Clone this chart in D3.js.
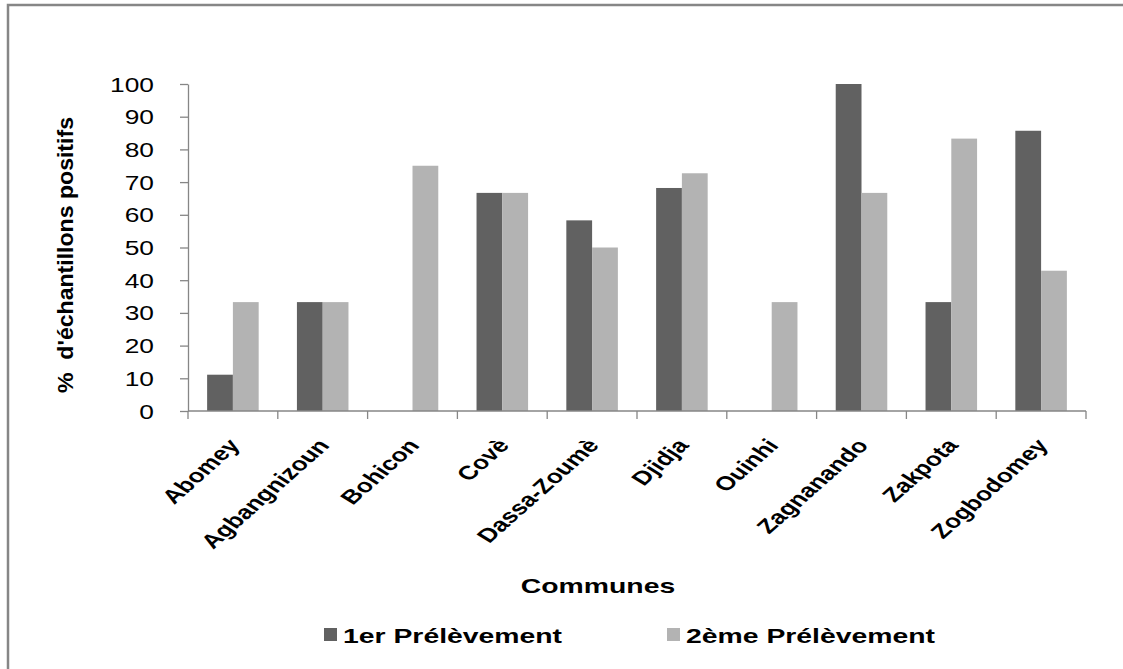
<!DOCTYPE html>
<html>
<head>
<meta charset="utf-8">
<script src="https://cdn.jsdelivr.net/npm/d3@7"></script>
<style>
  html, body { margin: 0; padding: 0; background: #fff; overflow: hidden; }
  svg { display: block; font-family: "Liberation Sans", Arial, sans-serif; }
</style>
</head>
<body>
<svg id="chart" width="1123" height="669"></svg>
<script>
const communes = ["Abomey", "Agbangnizoun", "Bohicon", "Covè", "Dassa-Zoumè", "Djidja", "Ouinhi", "Zagnanando", "Zakpota", "Zogbodomey"];
const prelevement1 = [11.1, 33.3, 0, 66.7, 58.3, 68.2, 0, 100, 33.3, 85.7];
const prelevement2 = [33.3, 33.3, 75, 66.7, 50, 72.7, 33.3, 66.7, 83.3, 42.9];
const seriesNames = ["1er Prélèvement", "2ème Prélèvement"];
const seriesColors = ["#616161", "#b3b3b3"];
const yTicks = [0, 10, 20, 30, 40, 50, 60, 70, 80, 90, 100];
const yTitle = "% \u00a0d'échantillons positifs";
const xTitle = "Communes";

const STRETCH = 1.35;
const axisColor = "#868686";
const svg = d3.select("#chart");

// frame
svg.append("rect").attr("x", 8).attr("y", 5).attr("width", 1300).attr("height", 900)
  .attr("fill", "none").attr("stroke", axisColor).attr("stroke-width", 2.5);

const pLeft = 188, pRight = 1086, pTop = 84, pBottom = 411;
const x0 = d3.scaleBand().domain(communes).range([pLeft, pRight]).padding(0);
const x1 = d3.scaleBand().domain(seriesNames)
  .range([x0.bandwidth() * 0.213, x0.bandwidth() * 0.787]).padding(0);
const y = d3.scaleLinear().domain([0, 100]).range([pBottom, pTop]);

const rows = communes.map((c, i) => ({ commune: c, values: [prelevement1[i], prelevement2[i]] }));

// bars
const g = svg.append("g");
rows.forEach(r => {
  r.values.forEach((v, k) => {
    if (v <= 0) return;
    g.append("rect")
      .attr("x", x0(r.commune) + x1(seriesNames[k]))
      .attr("y", y(v))
      .attr("width", x1.bandwidth())
      .attr("height", y(0) - y(v))
      .attr("fill", seriesColors[k]);
  });
});

function stretchText(sel, f) {
  sel.each(function () {
    const w = this.getComputedTextLength();
    this.setAttribute("textLength", w * f);
    this.setAttribute("lengthAdjust", "spacingAndGlyphs");
  });
}

// y axis
const yAxis = svg.append("g").attr("transform", `translate(${pLeft},0)`)
  .call(d3.axisLeft(y).tickValues(yTicks).tickSize(8).tickPadding(26).tickSizeOuter(0));
yAxis.select(".domain").attr("stroke", axisColor).attr("stroke-width", 1.3);
yAxis.selectAll(".tick line").attr("stroke", axisColor).attr("stroke-width", 1.3);
yAxis.selectAll(".tick text")
  .attr("fill", "#000").attr("font-size", 19.5)
  .attr("font-family", "Liberation Sans, Arial, sans-serif")
  .attr("dy", "0.36em");
stretchText(yAxis.selectAll(".tick text"), STRETCH);

// x axis: category boundaries ticks
const xb = svg.append("g");
xb.append("line").attr("x1", pLeft).attr("x2", pRight).attr("y1", pBottom).attr("y2", pBottom)
  .attr("stroke", axisColor).attr("stroke-width", 1.5);
const bounds = communes.map(c => x0(c)).concat([pRight]);
xb.selectAll("line.tk").data(bounds).enter().append("line").attr("class", "tk")
  .attr("x1", d => d).attr("x2", d => d).attr("y1", pBottom).attr("y2", pBottom + 8)
  .attr("stroke", axisColor).attr("stroke-width", 1.3);

// x labels
xb.selectAll("text.lab").data(communes).enter().append("text").attr("class", "lab")
  .attr("transform", d => `translate(${x0(d) + x0.bandwidth() / 2 + 8},446) scale(${STRETCH},1) rotate(-50)`)
  .attr("text-anchor", "end")
  .attr("font-size", 19.5).attr("font-weight", "bold").attr("fill", "#000")
  .text(d => d);

// y title
svg.append("text")
  .attr("transform", `translate(73,255) scale(${STRETCH},1) rotate(-90)`)
  .attr("text-anchor", "middle").attr("font-size", 16).attr("font-weight", "bold")
  .attr("textLength", 276).attr("lengthAdjust", "spacingAndGlyphs")
  .text(yTitle);

// x title
const xt = svg.append("text").attr("x", 598).attr("y", 593)
  .attr("text-anchor", "middle").attr("font-size", 21).attr("font-weight", "bold")
  .text(xTitle);
stretchText(xt, STRETCH);

// legend
const legX = [324, 667];
const leg = svg.append("g");
seriesNames.forEach((n, k) => {
  leg.append("rect").attr("x", legX[k]).attr("y", 628).attr("width", 13).attr("height", 13)
    .attr("fill", seriesColors[k]);
  const t = leg.append("text").attr("x", legX[k] + 19).attr("y", 643)
    .attr("font-size", 21).attr("font-weight", "bold").text(n);
  stretchText(t, STRETCH);
});
</script>
</body>
</html>
